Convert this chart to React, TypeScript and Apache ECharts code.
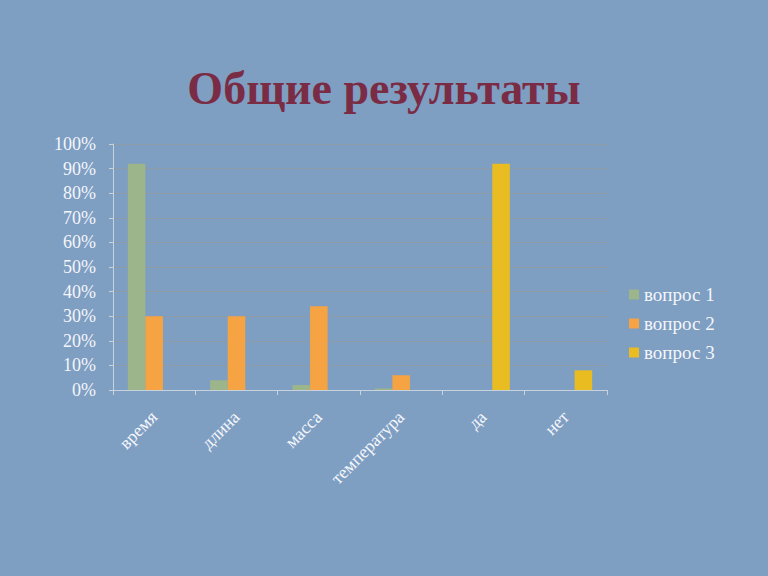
import React, { useEffect, useRef } from "react";
import * as echarts from "echarts";

const categories = ["время", "длина", "масса", "температура", "да", "нет"];
const seriesNames = ["вопрос 1", "вопрос 2", "вопрос 3"];
const q1 = [92, 4, 2, 0.6, 0, 0];
const q2 = [30, 30, 34, 6, 0, 0];
const q3 = [0, 0, 0, 0, 92, 8];
const colors = ["#9DB58B", "#F5A343", "#E9BD22"];

export default function App() {
  const ref = useRef<HTMLDivElement>(null);
  useEffect(() => {
    document.body.style.margin = "0";
    const chart = echarts.init(ref.current!, null, { renderer: "svg" });
    const font = "Liberation Serif, DejaVu Serif, serif";
    chart.setOption({
      animation: false,
      backgroundColor: "#7E9EC2",
      title: {
        text: "Общие результаты",
        left: "center",
        top: 60,
        textStyle: { color: "#7B2C45", fontSize: 46, fontWeight: "bold", fontFamily: font },
      },
      legend: {
        orient: "vertical",
        left: 624,
        top: 280,
        itemWidth: 10,
        itemHeight: 10,
        itemGap: 10,
        icon: "rect",
        textStyle: { color: "#F4F6FA", fontSize: 19, fontFamily: font },
        data: seriesNames,
      },
      grid: { left: 113, top: 144, width: 494, height: 246, containLabel: false },
      xAxis: {
        type: "category",
        data: categories,
        axisLine: { lineStyle: { color: "#C8D2DE" } },
        axisTick: { show: true, lineStyle: { color: "#C8D2DE" } },
        axisLabel: { rotate: 45, color: "#F4F6FA", fontSize: 18, fontFamily: font, margin: 24, interval: 0 },
      },
      yAxis: {
        type: "value",
        min: 0,
        max: 100,
        interval: 10,
        axisLine: { show: true, lineStyle: { color: "#C8D2DE" } },
        axisTick: { show: true, length: 4, lineStyle: { color: "#C8D2DE" } },
        axisLabel: { formatter: "{value}%", color: "#F4F6FA", fontSize: 18, fontFamily: font, margin: 17 },
        splitLine: { lineStyle: { color: "#8E9AA6", width: 1 } },
      },
      series: [q1, q2, q3].map((d, i) => ({
        name: seriesNames[i],
        type: "bar",
        data: d,
        barGap: "0%",
        barCategoryGap: "36%",
        itemStyle: { color: colors[i] },
      })),
    });
    return () => chart.dispose();
  }, []);
  return <div ref={ref} style={{ position: "fixed", left: 0, top: 0, width: 768, height: 576 }} />;
}
